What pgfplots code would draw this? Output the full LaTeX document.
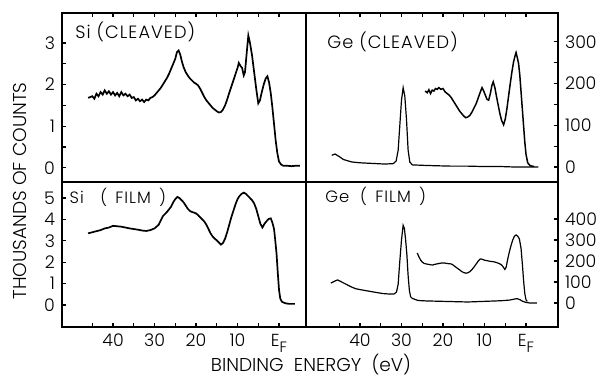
\documentclass[border=0pt]{standalone}
\usepackage{fontspec}
\setmainfont{Poppins}[UprightFont={* Light}]
\newfontfamily\lsfont{Poppins}[UprightFont={* Light},LetterSpace=6]
\usepackage{pgfplots}
\pgfplotsset{compat=1.18}
\begin{document}
\begin{tikzpicture}
\useasboundingbox (0,0) rectangle (300pt,189.5pt);
\tikzset{plab/.style={font=\lsfont\fontsize{8.2}{10}\selectfont,anchor=west,inner sep=0pt},
  plabc/.style={font=\lsfont\fontsize{8.9}{10}\selectfont,anchor=west,inner sep=0pt},
  curve/.style={black,line width=0.75pt}}
\pgfplotsset{
  every axis/.append style={
    scale only axis,
    anchor=south west,
    x dir=reverse,
    tick align=inside,
    major tick length=2.2pt,
    minor tick length=2.2pt,
    axis line style={line width=0.9pt},
    every tick/.style={black,line width=0.6pt},
    /pgf/number format/assume math mode=true,
    tick label style={font=\fontsize{8.7}{10}\selectfont},
    clip=false,
  },
  topx/.style={xtick={0,5,...,45}, xtick pos=right, xticklabel=\empty},
  botx/.style={xtick={0,10,20,30,40}, minor xtick={5,15,25,35,45}, xtick pos=left,
     xticklabels={E\raisebox{-0.7ex}{\fontsize{7.5}{8}\selectfont F},10,20,30,40}},
}
% Top left: Si cleaved
\begin{axis}[at={(31pt,98.5pt)},width=122pt,height=84.5pt,
  xmin=-6.5,xmax=52.3,ymin=-0.34,ymax=3.72,topx,
  ytick={0,1,2,3}, minor ytick={0.5,1.5,2.5}, ytick pos=left]
\addplot[curve,line width=0.85pt] coordinates {
(46,1.68)(45,1.72)(44.5,1.66)(44,1.78)(43.5,1.72)(43,1.82)(42.5,1.76)(42,1.86)(41.5,1.78)(41,1.84)
(40.5,1.76)(40,1.82)(39.5,1.74)(39,1.80)(38.5,1.72)(38,1.82)(37.5,1.74)(37,1.78)(36.5,1.72)(36,1.76)
(35.5,1.68)(35,1.70)(34.5,1.62)(34,1.66)(33.5,1.60)(33,1.64)(32.5,1.58)(32,1.64)(31.5,1.62)(31,1.68)
(30.5,1.70)(30,1.74)(29.5,1.80)(29,1.86)(28.5,1.92)(28,2.00)(27.5,2.08)(27,2.16)(26.5,2.26)(26,2.38)
(25.5,2.50)(25,2.62)(24.6,2.78)(24.2,2.82)(23.8,2.72)(23.4,2.55)(23,2.42)(22.5,2.30)(22,2.22)(21.5,2.15)
(21,2.10)(20.5,2.05)(20,2.02)(19.5,1.98)(19,1.90)(18.5,1.80)(18,1.70)(17.5,1.62)(17,1.56)(16.5,1.50)
(16,1.44)(15.5,1.40)(15,1.36)(14.5,1.33)(14,1.34)(13.5,1.40)(13,1.50)(12.5,1.64)(12,1.80)(11.5,1.95)
(11,2.10)(10.5,2.25)(10,2.40)(9.7,2.52)(9.3,2.45)(8.9,2.40)(8.5,2.22)(8.2,2.30)(7.8,2.75)(7.4,3.18)
(7.0,3.00)(6.5,2.70)(6.0,2.30)(5.5,1.90)(5.0,1.55)(4.6,1.62)(4.2,1.80)(3.7,2.00)(3.2,2.15)(2.8,2.20)
(2.4,2.05)(2.0,1.80)(1.6,1.45)(1.2,1.05)(0.8,0.65)(0.4,0.35)(0.0,0.15)(-0.5,0.08)(-1,0.05)(-2,0.05)
(-3,0.04)(-4,0.05)(-5,0.05)};
\node[plabc] at (rel axis cs:0.053,0.888) {Si (CLEAVED)};
\end{axis}
% Top right: Ge cleaved
\begin{axis}[at={(153pt,98.5pt)},width=126pt,height=84.5pt,
  xmin=-7.7,xmax=53,ymin=-36,ymax=369,topx,
  ytick={0,100,200,300}, minor ytick={50,150,250}, ytick pos=right, yticklabel pos=right]
\addplot[curve,line width=0.6pt] coordinates {
(46.8,28)(46,31)(45,25)(44,18)(43,15)(42,12)(40,10)(38,9)(36,8)(34,7)(32,8)(31.3,14)(30.8,40)
(30.4,100)(30.0,160)(29.6,190)(29.2,170)(28.8,115)(28.4,40)(28.0,12)(27.4,5)(25,4)(22,3)(18,2)
(14,2)(10,1)(6,1)(3,0)(0,0)(-3,0)};
\addplot[curve] coordinates {
(24.3,182)(23.8,178)(23.4,185)(23,176)(22.6,184)(22.2,182)(21.8,188)(21.4,186)(21,190)(20.5,186)
(20,188)(19.5,180)(19,176)(18.5,172)(18,166)(17.5,158)(17,150)(16.5,142)(16,134)(15.5,128)
(15,122)(14.5,118)(14,120)(13.5,124)(13,132)(12.5,142)(12,152)(11.5,166)(11,180)(10.6,190)
(10.2,182)(9.8,172)(9.4,162)(9.0,160)(8.6,176)(8.2,196)(7.9,204)(7.5,190)(7.1,168)(6.7,148)
(6.3,128)(5.9,112)(5.4,101)(5.0,115)(4.6,140)(4.2,170)(3.8,200)(3.4,228)(3.0,252)(2.6,268)
(2.4,274)(2.1,262)(1.8,248)(1.5,220)(1.2,180)(0.9,140)(0.6,100)(0.3,60)(0,30)(-0.4,10)(-1,3)(-2,1)};
\node[plabc] at (rel axis cs:0.083,0.83) {Ge (CLEAVED)};
\end{axis}
% Bottom left: Si film
\begin{axis}[at={(31pt,26pt)},width=122pt,height=72.5pt,
  xmin=-6.5,xmax=52.3,ymin=-1.03,ymax=5.75,botx,
  ytick={0,1,2,3,4,5}, ytick pos=left]
\addplot[curve,line width=0.85pt] coordinates {
(46,3.35)(45,3.40)(44,3.45)(43,3.50)(42,3.58)(41,3.62)(40,3.70)(39,3.68)(38,3.66)(37,3.62)
(36,3.58)(35,3.55)(34,3.52)(33,3.48)(32,3.46)(31,3.50)(30,3.58)(29,3.75)(28.5,3.95)(28,4.15)
(27,4.35)(26,4.60)(25.5,4.80)(25,4.95)(24.5,5.05)(24,5.00)(23.5,4.90)(23,4.80)(22.5,4.65)(22,4.50)
(21.5,4.40)(21,4.35)(20.5,4.32)(20,4.28)(19.5,4.20)(19,4.10)(18.5,4.00)(18,3.90)(17.5,3.75)(17,3.55)
(16.5,3.35)(16,3.20)(15.5,3.10)(15,3.02)(14.5,2.92)(14,2.82)(13.5,2.90)(13,3.10)(12.5,3.40)(12,3.75)
(11.5,4.10)(11,4.40)(10.5,4.70)(10,4.95)(9.5,5.10)(9,5.20)(8.5,5.25)(8,5.20)(7.5,5.10)(7,5.00)
(6.5,4.90)(6,4.75)(5.5,4.50)(5,4.15)(4.5,3.80)(4,3.62)(3.5,3.80)(3,3.92)(2.5,4.02)(2.0,4.05)
(1.6,3.85)(1.2,3.55)(0.9,3.00)(0.6,2.40)(0.3,1.50)(0.0,0.70)(-0.3,0.30)(-0.7,0.15)(-1.5,0.08)
(-2.5,0.05)(-3.8,0.05)};
\node[plab] at (rel axis cs:0.03,0.897) {Si\ \ \ (\ \,FILM\ \,)};
\end{axis}
% Bottom right: Ge film
\begin{axis}[at={(153pt,26pt)},width=126pt,height=72.5pt,
  xmin=-7.7,xmax=53,ymin=-114,ymax=576,botx,
  ytick={0,100,200,300,400}, ytick pos=right, yticklabel pos=right]
\addplot[curve,line width=0.6pt] coordinates {
(47,95)(46,105)(45.4,110)(45,106)(44,96)(43,86)(42,76)(41,68)(40,64)(38,57)(36,50)(34.4,45)
(33,43)(31.8,43)(31.2,52)(30.8,90)(30.4,200)(30.0,300)(29.6,370)(29.3,355)(29.0,300)(28.7,230)
(28.4,130)(28.1,60)(27.8,30)(27.4,22)(26,12)(24,10)(20,8)(16,6)(14,5)(10,8)(6,11)(4,14)(2.5,20)
(2,20)(1.4,15)(0.8,8)(0,3)(-1,0)(-2.6,0)};
\addplot[curve,line width=0.6pt] coordinates {
(26.2,238)(25.8,220)(25.4,205)(25,195)(24.5,188)(24,186)(23.5,184)(23,182)(22.5,181)(22,184)
(21.5,186)(21,188)(20.5,190)(20,191)(19.5,190)(19,188)(18.5,187)(18,186)(17.5,180)(17,172)
(16.5,165)(16,158)(15.5,150)(15,145)(14.5,142)(14,144)(13.5,150)(13,160)(12.5,172)(12,186)
(11.5,200)(11,210)(10.5,208)(10,204)(9.5,202)(9,200)(8.5,198)(8,197)(7.5,195)(7,192)(6.5,188)
(6,183)(5.5,172)(5.1,160)(4.8,170)(4.4,210)(4.0,245)(3.6,275)(3.2,300)(2.8,318)(2.4,324)(2.0,318)
(1.6,305)(1.2,260)(0.9,190)(0.6,110)(0.3,45)(0,15)(-0.3,8)};
\node[plab] at (rel axis cs:0.075,0.903) {Ge\ \ (\ \,FILM\ \,)};
\end{axis}
\node[rotate=90,font=\fontsize{9.3}{11}\selectfont] at (10pt,94pt) {THOUSANDS\ OF\ COUNTS};
\node[font=\fontsize{9.3}{11}\selectfont] at (155.5pt,7pt) {BINDING\ \ ENERGY\ \ (eV)};
\end{tikzpicture}
\end{document}
